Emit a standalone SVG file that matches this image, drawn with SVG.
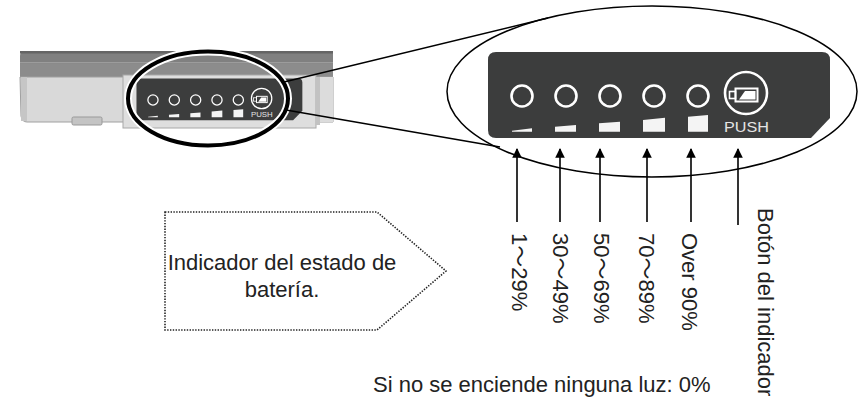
<svg xmlns="http://www.w3.org/2000/svg" xmlns:xlink="http://www.w3.org/1999/xlink" width="858" height="401" viewBox="0 0 858 401">
  <defs>
    <style>
      .lbl { font-family: "Liberation Sans", Arial, "Noto Sans CJK JP", sans-serif; font-size: 22px; fill: #222; }
      .conn { stroke: #000; stroke-width: 1.5; fill: none; }
      .arrow { stroke: #000; stroke-width: 1.6; fill: none; marker-end: url(#tip); }
      .led { fill: none; stroke: #fff; stroke-width: 2.6; }
      .bar { fill: #f4f4f4; }
    </style>
    <marker id="tip" viewBox="0 0 10 10" refX="9" refY="5" markerWidth="6" markerHeight="6" orient="auto" markerUnits="strokeWidth">
      <path d="M0,0 L10,5 L0,10 Z" fill="#000"/>
    </marker>
    <!-- indicator panel, drawn at the enlarged scale -->
    <g id="panel">
      <path d="M496,52 H822 Q830,52 830,60 V118 L811,138 H496 Q488,138 488,130 V60 Q488,52 496,52 Z" fill="#3c3d3d"/>
      <circle class="led" cx="522" cy="96" r="10.5"/>
      <circle class="led" cx="566" cy="96" r="10.5"/>
      <circle class="led" cx="610" cy="96" r="10.5"/>
      <circle class="led" cx="654" cy="96" r="10.5"/>
      <circle class="led" cx="698" cy="96" r="10.5"/>
      <circle class="led" cx="746" cy="93" r="21"/>
      <rect x="729.5" y="91.5" width="6" height="7" fill="none" stroke="#fff" stroke-width="1.6"/>
      <rect x="735.5" y="88.5" width="22" height="13" fill="none" stroke="#fff" stroke-width="2"/>
      <polygon points="739,99.5 745,91 755.5,91 755.5,99.5" fill="#fff"/>
      <polygon class="bar" points="512,130.8 532,128.3 532,131.7 512,131.7"/>
      <polygon class="bar" points="555,126.7 576,125 576,131.7 555,131.7"/>
      <polygon class="bar" points="599,123.3 620,121.7 620,131.7 599,131.7"/>
      <polygon class="bar" points="643,120 665,117.7 665,131.7 643,131.7"/>
      <polygon class="bar" points="688,116.7 708,115 708,131.7 688,131.7"/>
      <text x="746.5" y="132" text-anchor="middle" textLength="45" lengthAdjust="spacingAndGlyphs" style="font-family:'Liberation Sans',Arial,sans-serif;font-size:15px;fill:#e4e4e4">PUSH</text>
    </g>
  </defs>

  <rect width="858" height="401" fill="#fff"/>

  <!-- device front view -->
  <g id="device">
    <path d="M25,51 H333 V77 H20 V56 Q20,51 25,51 Z" fill="#808080"/>
    <rect x="20" y="51" width="313" height="2.5" fill="#656565"/>
    <rect x="20" y="62" width="313" height="1.2" fill="#9c9c9c"/>
    <rect x="20" y="63.2" width="313" height="13.8" fill="#8c8c8c"/>
    <path d="M20,77 H333 V122 H27 Q22,122 21,116 Z" fill="#d9d9d9" stroke="#a0a0a0" stroke-width="1"/>
    <rect x="21" y="77" width="6" height="44" fill="#c6c6c6"/>
    <rect x="72" y="117" width="30" height="8" rx="1.5" fill="#c4c4c4" stroke="#999" stroke-width="1"/>
    <rect x="123" y="75" width="193" height="53" fill="#dedede" stroke="#a8a8a8" stroke-width="1"/>
    <rect x="316" y="77" width="4" height="48" fill="#c2c2c2"/>
    <rect x="320" y="77" width="13" height="45" fill="#dcdcdc"/>
    <use xlink:href="#panel" href="#panel" transform="translate(-100.2,53.4) scale(0.485)"/>
  </g>

  <!-- highlight ring on the device -->
  <g id="ring">
    <ellipse cx="208" cy="98.5" rx="80" ry="47" fill="none" stroke="#fff" stroke-width="8"/>
    <ellipse cx="208" cy="98.5" rx="80" ry="47" fill="none" stroke="#000" stroke-width="4"/>
  </g>

  <!-- enlarged view -->
  <g id="zoom">
    <ellipse cx="652" cy="91.5" rx="205" ry="85.5" fill="none" stroke="#000" stroke-width="1.5"/>
    <use xlink:href="#panel" href="#panel"/>
  </g>

  <g id="connectors">
    <line class="conn" x1="284" y1="82" x2="548" y2="18"/>
    <line class="conn" x1="286" y1="110" x2="500" y2="147"/>
    <line class="arrow" x1="517" y1="222" x2="517" y2="149"/>
    <line class="arrow" x1="560" y1="222" x2="560" y2="149"/>
    <line class="arrow" x1="600" y1="222" x2="600" y2="149"/>
    <line class="arrow" x1="647" y1="222" x2="647" y2="149"/>
    <line class="arrow" x1="691" y1="222" x2="691" y2="149"/>
    <line class="arrow" x1="738" y1="225" x2="738" y2="149"/>
  </g>

  <!-- level labels -->
  <g id="labels">
    <text class="lbl" transform="translate(512,233) rotate(90)">1～29%</text>
    <text class="lbl" transform="translate(553,233) rotate(90)">30～49%</text>
    <text class="lbl" transform="translate(593.5,233) rotate(90)">50～69%</text>
    <text class="lbl" transform="translate(639,233) rotate(90)">70～89%</text>
    <text class="lbl" transform="translate(682,233) rotate(90)">Over 90%</text>
    <text class="lbl" transform="translate(758,208) rotate(90)">Botón del indicador</text>
  </g>

  <g id="callout">
    <polygon points="165,212 377,212 446,271 377,330 165,330" fill="none" stroke="#222" stroke-width="1.6" stroke-dasharray="1.4,1.4"/>
    <text class="lbl" x="282" y="270" text-anchor="middle">Indicador del estado de</text>
    <text class="lbl" x="282" y="297" text-anchor="middle">batería.</text>
  </g>

  <g id="note">
    <text class="lbl" x="373" y="392">Si no se enciende ninguna luz: 0%</text>
  </g>
</svg>
